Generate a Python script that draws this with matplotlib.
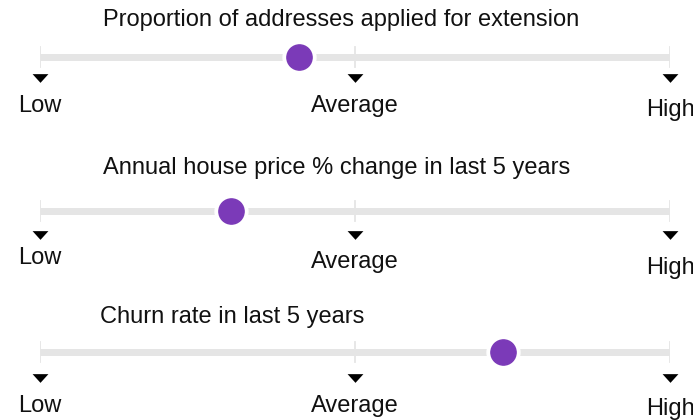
import matplotlib.pyplot as plt
from matplotlib.path import Path

plt.rcParams['font.family'] = ['Liberation Sans', 'DejaVu Sans']

# Indicator titles and where each area sits between Low (0) and High (1)
titles = ['Proportion of addresses applied for extension',
          'Annual house price % change in last 5 years',
          'Churn rate in last 5 years']
values = [0.411, 0.303, 0.735]
scale_pos = [0.0, 0.5, 1.0]
scale_labels = ['Low', 'Average', 'High']

# Vertical layout (pixels from the top) for each row
title_y = [20, 168, 317]
line_y = [57, 211, 352]
tri_y = [78, 235, 378]
label_y = [[106, 106, 110], [258, 262, 268], [406, 406, 409]]
title_x = [0.1, 0.1, 0.095]  # left edge of titles, in scale units

W, H = 693, 420
fig = plt.figure(figsize=(W / 100, H / 100), dpi=100)
ax = fig.add_axes([40 / W, 0, 630 / W, 1])
ax.set_xlim(0, 1)
ax.set_ylim(H, 0)
ax.axis('off')

purple = '#7b3ab8'
grey = '#e5e5e5'
fs = 17

# flat downward triangle
tri = Path([(-1, 0.55), (1, 0.55), (0, -0.55), (-1, 0.55)])

for i in range(len(titles)):
    y = line_y[i]
    ax.text(title_x[i], title_y[i], titles[i], ha='left',
            va='center', fontsize=fs, color='#111111')
    ax.plot([0, 1], [y, y], color=grey, lw=5, solid_capstyle='butt', zorder=1)
    for p in scale_pos:
        ax.plot([p, p], [y - 10, y + 10], color=grey, lw=1.3, zorder=1)
    # white halo behind the dot
    ax.scatter([values[i]], [y], s=560, color='white', zorder=2)
    ax.scatter([values[i]], [y], s=330, color=purple, zorder=3)
    ax.scatter(scale_pos, [tri_y[i]] * 3, marker=tri, s=130, color='black',
               linewidths=0, zorder=3, clip_on=False)
    for p, lab, ly in zip(scale_pos, scale_labels, label_y[i]):
        ax.text(p, ly, lab, ha='center', va='center', fontsize=fs,
                color='#111111', clip_on=False)

fig.savefig('out.png', dpi=100)
